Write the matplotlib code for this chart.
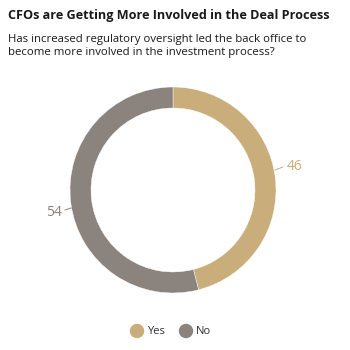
import matplotlib.pyplot as plt
from matplotlib.patches import Circle
plt.rcParams['font.family'] = ['Open Sans', 'DejaVu Sans']

labels = ['Yes', 'No']
values = [46, 54]
colors = ['#C9AE7C', '#8A837E']

fig = plt.figure(figsize=(3.5, 3.5), dpi=100)
ax = fig.add_axes([0, 0, 1, 1])
ax.set_aspect('equal')
ax.axis('off')

cx, cy, r = 173, 160, 103
wedges, _ = ax.pie(values, colors=colors, startangle=90, counterclock=False,
                   center=(cx, cy), radius=r,
                   wedgeprops=dict(width=21, edgecolor='white', linewidth=0.3))
ax.set_xlim(0, 350)
ax.set_ylim(0, 350)

# value labels with small leader lines
ax.plot([275, 283], [180, 183], color=colors[0], lw=0.7)
ax.text(287, 183, str(values[0]), color=colors[0], fontsize=10, va='center', ha='left')
ax.plot([71, 65], [142, 140], color=colors[1], lw=0.7)
ax.text(62, 137, str(values[1]), color=colors[1], fontsize=10, va='center', ha='right')

fig.text(8 / 350, 1 - 16 / 350, 'CFOs are Getting More Involved in the Deal Process',
         fontsize=9.1, fontweight='bold', va='center', color='#1a1a1a')
fig.text(8 / 350, 1 - 46 / 350,
         'Has increased regulatory oversight led the back office to\nbecome more involved in the investment process?',
         fontsize=8.2, va='center', color='#1a1a1a', linespacing=1.35)

# legend
for x, lab, c in [(137, labels[0], colors[0]), (186, labels[1], colors[1])]:
    ax.add_patch(Circle((x, 19), 6.5, color=c))
    ax.text(x + 10, 19, lab, fontsize=8, va='center', ha='left', color='#333333')

fig.savefig('out.png', dpi=100)
